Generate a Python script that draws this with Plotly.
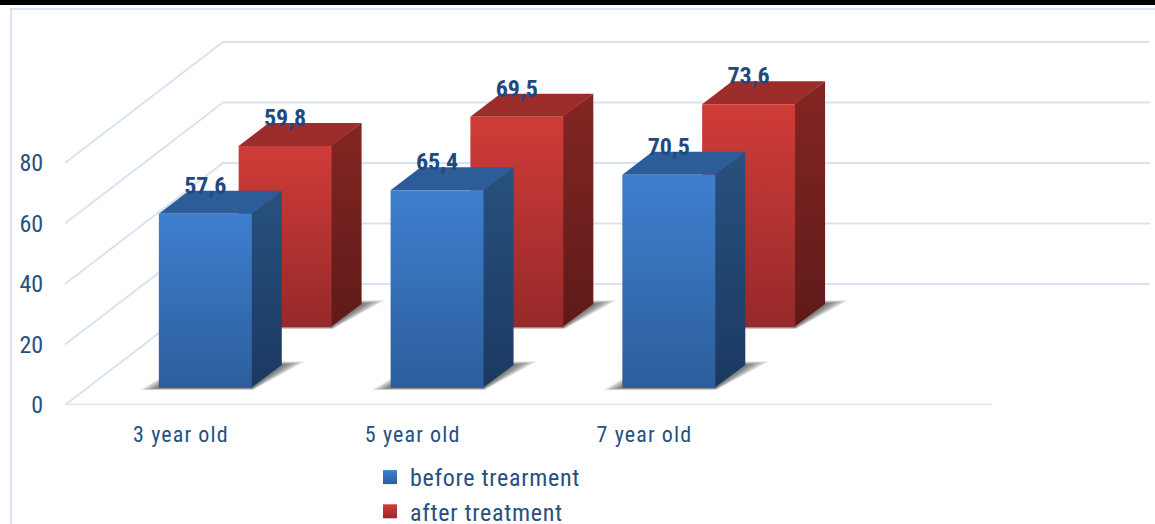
import plotly.graph_objects as go

categories = ["3 year old", "5 year old", "7 year old"]
before_treatment = [57.6, 65.4, 70.5]
after_treatment = [59.8, 69.5, 73.6]
y_ticks = [0, 20, 40, 60, 80]

W, H = 1155, 524
ML, MB = 53, 119
ORIGIN_X = 65
UNIT_X = 231.75        # px per category slot
UNIT_Y = 3.025         # px per value unit
N_SLOTS = 4
DEPTH_X = 158 / UNIT_X # oblique projection of the floor depth
DEPTH_Y = 121 / UNIT_Y
BAR_W = 0.401
BAR_C = 0.51
ROW_DEPTH = 0.19
ROW_BEFORE = 0.14
ROW_AFTER = 0.645

INK = "#26507f"
LABEL = "#1f4a80"
GRID = "#d8e3f2"
FONT = "Roboto Condensed, DejaVu Sans Condensed, Roboto, sans-serif"


def P(u, d, v):
    return u + d * DEPTH_X, v + d * DEPTH_Y


fig = go.Figure()


def poly(points, **kw):
    xs, ys = zip(*[P(*p) for p in points + points[:1]])
    fig.add_trace(go.Scatter(x=list(xs), y=list(ys), mode="lines", fill="toself",
                             line=dict(width=0), hoverinfo="skip", showlegend=False, **kw))


def grad(bottom, top):
    return dict(type="vertical", colorscale=[[0, bottom], [1, top]])


# walls and floor
for t in y_ticks:
    xs, ys = zip(P(0, 0, t), P(0, 1, t), P(N_SLOTS, 1, t))
    fig.add_trace(go.Scatter(x=list(xs), y=list(ys), mode="lines", line=dict(color=GRID, width=2),
                             hoverinfo="skip", showlegend=False))
fig.add_trace(go.Scatter(x=[0, N_SLOTS], y=[0, 0], mode="lines", line=dict(color=GRID, width=2.5),
                         hoverinfo="skip", showlegend=False))


def bar3d(i, value, d0, pal):
    u0 = i + BAR_C - BAR_W / 2
    u1 = u0 + BAR_W
    d1 = d0 + ROW_DEPTH
    # soft contact shadow
    for k in [1.0, 0.88, 0.76, 0.64, 0.52, 0.4, 0.28, 0.16]:
        poly([(u0 - 0.07 * k, d0 - 0.016 * k, 0), (u1 + 0.015 * k, d0 - 0.016 * k, 0),
              (u1 + 0.08 * k, d1 + 0.03 * k, 0), (u1 - 0.03, d1 + 0.03 * k, 0),
              (u0 + 0.05, d0 + 0.09, 0), (u0 - 0.05 * k, d0 + 0.09 * k, 0)],
             fillcolor="rgba(40,40,40,0.1)")
    # side, top, front (side and top run slightly under the front to avoid a seam)
    poly([(u1 - 0.004, d0, 0), (u1, d1, 0), (u1, d1, value), (u1 - 0.004, d0, value)],
         fillgradient=grad(pal["side_bottom"], pal["side_top"]))
    poly([(u0, d0, value), (u1, d0, value), (u1, d1, value), (u0, d1, value)], fillcolor=pal["top"])
    poly([(u0, d0, 0), (u1, d0, 0), (u1, d0, value), (u0, d0, value)],
         fillgradient=grad(pal["front_bottom"], pal["front_top"]))


BLUE = dict(front_top="#3e7fcf", front_bottom="#2c5e9c", side_top="#28517f", side_bottom="#1a3961", top="#2c5d99")
RED = dict(front_top="#d03c38", front_bottom="#96292a", side_top="#832623", side_bottom="#5e1a18", top="#9c2d2b")

for i, v in enumerate(after_treatment):
    bar3d(i, v, ROW_AFTER, RED)
for i, v in enumerate(before_treatment):
    bar3d(i, v, ROW_BEFORE, BLUE)

# value labels
for vals, d0 in ((after_treatment, ROW_AFTER), (before_treatment, ROW_BEFORE)):
    pts = [P(i + BAR_C, d0, v + 8.6) for i, v in enumerate(vals)]
    fig.add_trace(go.Scatter(x=[p[0] for p in pts], y=[p[1] for p in pts], mode="text",
                             text=[f"{v:.1f}".replace(".", ",") for v in vals], textposition="middle center",
                             textfont=dict(family=FONT, size=24, color=LABEL, weight="bold"),
                             hoverinfo="skip", showlegend=False))

# legend entries
for name, pal in (("before trearment", BLUE), ("after treatment", RED)):
    fig.add_trace(go.Scatter(x=[None], y=[None], mode="markers", name=name,
                             marker=dict(symbol="square", size=14, color=pal["front_top"],
                                         gradient=dict(type="vertical", color=pal["front_bottom"]))))


def px(x):
    return (x - ML) / (W - ML)


def py(y):
    return (405 - y) / 405


fig.update_layout(
    width=W, height=H, autosize=False,
    margin=dict(l=ML, r=0, t=0, b=MB, pad=0, autoexpand=False),
    paper_bgcolor="white", plot_bgcolor="white",
    font=dict(family=FONT, color=INK),
    xaxis=dict(range=[(ML - ORIGIN_X) / UNIT_X, (W - ORIGIN_X) / UNIT_X], showgrid=False, zeroline=False,
               showline=False, tickmode="array", tickvals=[i + 0.5 for i in range(len(categories))],
               ticktext=categories, ticks="outside", ticklen=10, tickcolor="rgba(0,0,0,0)",
               tickfont=dict(size=22, color=INK, family=FONT)),
    yaxis=dict(range=[0, 405 / UNIT_Y], showgrid=False, zeroline=False, showline=False,
               tickmode="array", tickvals=y_ticks, ticks="outside", ticklen=4, tickcolor="rgba(0,0,0,0)",
               tickfont=dict(size=24, color=INK, family=FONT)),
    legend=dict(orientation="v", x=px(370), xanchor="left", y=py(455), yanchor="top",
                font=dict(size=24, color=INK, family=FONT), tracegroupgap=0,
                bgcolor="rgba(0,0,0,0)", itemclick=False, itemdoubleclick=False),
    shapes=[
        dict(type="rect", xref="paper", yref="paper", x0=px(0), x1=px(W), y0=py(5), y1=py(0),
             fillcolor="black", line=dict(width=0), layer="above"),
        dict(type="path", xref="paper", yref="paper",
             path=f"M {px(11)} {py(H)} L {px(11)} {py(9)} L {px(W)} {py(9)}",
             line=dict(color="#d6e4f5", width=2), layer="below"),
    ],
)

POST = """
document.body.style.margin='0';document.body.style.overflow='hidden';
var s=document.createElement('style');
s.textContent='.legendtext{letter-spacing:.7px}.xtick text{letter-spacing:1.1px}.legend .scrollbox,.legend{clip-path:none!important}';
document.head.appendChild(s);
"""
fig.write_html("out.html", config=dict(displayModeBar=False), post_script=POST)
